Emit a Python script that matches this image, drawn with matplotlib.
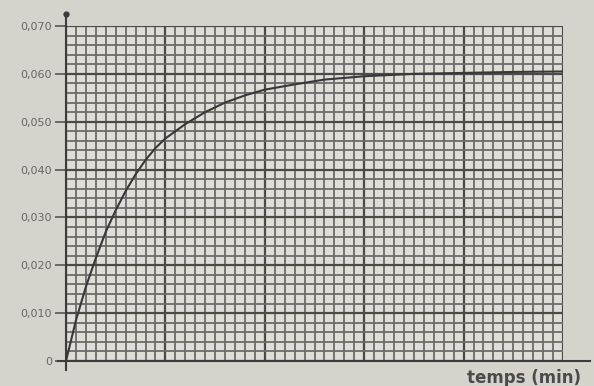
import matplotlib.pyplot as plt
import numpy as np
from matplotlib.ticker import MultipleLocator

# values (temps in min, concentration)
temps = [0, 1, 2, 3, 4, 5, 6, 7, 8, 9, 10, 12, 14, 16, 18, 20, 23, 26, 30,
         35, 40, 45, 50]
conc = [0, 0.0085, 0.0155, 0.0215, 0.027, 0.0315, 0.0355, 0.039, 0.042,
        0.0445, 0.0465, 0.0495, 0.052, 0.054, 0.0555, 0.0567, 0.0578, 0.0588,
        0.0595, 0.0600, 0.0602, 0.0604, 0.0605]

y_ticks = [0, 0.010, 0.020, 0.030, 0.040, 0.050, 0.060, 0.070]
y_labels = ["0", "0,010", "0,020", "0,030", "0,040", "0,050", "0,060", "0,070"]

fig = plt.figure(figsize=(5.94, 3.86), dpi=100, facecolor="#d6d3cc")
ax = fig.add_axes([66/594, 25/386, 497/594, 335/386])
ax.set_facecolor("#e0ddd6")

ax.set_xlim(0, 50)
ax.set_ylim(0, 0.070)

ax.set_xticks(np.arange(0, 51, 10))
ax.xaxis.set_minor_locator(MultipleLocator(1))
ax.set_yticks(y_ticks)
ax.set_yticklabels(y_labels)
ax.yaxis.set_minor_locator(MultipleLocator(0.002))

ax.grid(which="minor", color="#6c6c6c", linewidth=1.3)
ax.grid(which="major", color="#4a4a4a", linewidth=1.6)
ax.set_axisbelow(True)

ax.tick_params(axis="x", which="both", length=0, labelbottom=False)
ax.tick_params(axis="y", which="minor", length=0)
ax.tick_params(axis="y", which="major", length=8, width=1.2, color="#555555",
               labelsize=8, labelcolor="#666666", pad=2)

for s in ax.spines.values():
    s.set_visible(False)

# axes drawn by hand, running past the grid
ax.plot([0, 0], [-0.0018, 0.0725], color="#3c3c3c", lw=1.5, clip_on=False)
ax.plot([0], [0.0725], marker="o", ms=3.5, color="#3c3c3c", clip_on=False)
ax.plot([-0.8, 52.7], [0, 0], color="#3c3c3c", lw=1.5, clip_on=False)

ax.plot(temps, conc, color="#383838", lw=1.5)

fig.text(0.882, 0.02, "temps (min)", fontsize=12, color="#4a4a4a",
         ha="center", va="center", fontweight="bold")

fig.savefig("out.png", dpi=100, facecolor=fig.get_facecolor())
